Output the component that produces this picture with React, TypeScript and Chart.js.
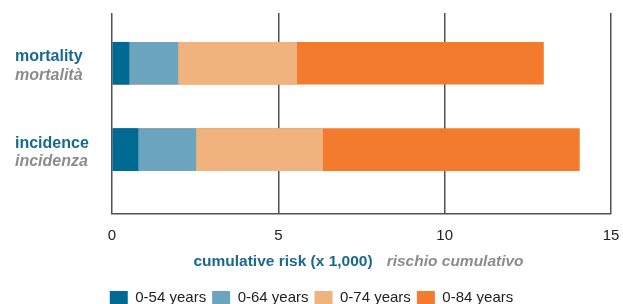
import React, { useEffect, useRef } from "react";
import { Chart, registerables } from "chart.js";

Chart.register(...registerables);

const categories = ["mortality", "incidence"];
const categoriesIt = ["mortalità", "incidenza"];
const seriesLabels = ["0-54 years", "0-64 years", "0-74 years", "0-84 years"];
// cumulative risk (x 1,000), each age band cumulative from 0
const risk0to54 = [0.51, 0.78];
const risk0to64 = [1.98, 2.52];
const risk0to74 = [5.55, 6.33];
const risk0to84 = [12.97, 14.05];
const xTicks = [0, 5, 10, 15];
const titleEn = "cumulative risk (x 1,000)";
const titleIt = "rischio cumulativo";

const colors = ["#006a93", "#6aa4be", "#f0b37e", "#f37b2d"];
const TEAL = "#19698f";
const GRAY = "#8c8c8c";
const FONT = "'Liberation Sans', Arial, sans-serif";

const labelsPlugin = {
  id: "customLabels",
  afterDraw(chart: any) {
    const { ctx, chartArea, scales } = chart;
    ctx.save();
    ctx.textAlign = "left";
    ctx.textBaseline = "alphabetic";
    categories.forEach((c, i) => {
      const yc = scales.y.getPixelForValue(i);
      ctx.font = `bold 16px ${FONT}`;
      ctx.fillStyle = TEAL;
      ctx.fillText(c, 15, yc - 2);
      ctx.font = `italic bold 16px ${FONT}`;
      ctx.fillStyle = GRAY;
      ctx.fillText(categoriesIt[i], 15, yc + 16.5);
    });
    const gap = 14;
    ctx.font = `bold 15.5px ${FONT}`;
    const w1 = ctx.measureText(titleEn).width;
    ctx.font = `italic bold 15.5px ${FONT}`;
    const w2 = ctx.measureText(titleIt).width;
    const cx = (chartArea.left + chartArea.right) / 2 - 3;
    const x0 = cx - (w1 + gap + w2) / 2;
    const yb = 265.5;
    ctx.font = `bold 15.5px ${FONT}`;
    ctx.fillStyle = TEAL;
    ctx.fillText(titleEn, x0, yb);
    ctx.font = `italic bold 15.5px ${FONT}`;
    ctx.fillStyle = GRAY;
    ctx.fillText(titleIt, x0 + w1 + gap, yb);
    ctx.restore();
  },
};

export default function App() {
  const ref = useRef<HTMLCanvasElement | null>(null);
  useEffect(() => {
    if (!ref.current) return;
    const series = [risk0to54, risk0to64, risk0to74, risk0to84];
    const chart = new Chart(ref.current, {
      type: "bar",
      data: {
        datasets: series.map((vals, k) => ({
          label: seriesLabels[k],
          data: vals.map((v, i) => ({ x: v, y: i })),
          backgroundColor: colors[k],
          borderWidth: 0,
          barThickness: 42,
          grouped: false,
          order: k,
        })),
      } as any,
      options: {
        indexAxis: "y",
        animation: false,
        responsive: true,
        maintainAspectRatio: false,
        layout: { padding: { top: 13, left: 0, right: 0, bottom: 0 } },
        scales: {
          x: {
            type: "linear",
            min: 0,
            max: 15,
            z: 1,
            afterBuildTicks: (s: any) => {
              s.ticks = xTicks.map((v) => ({ value: v }));
            },
            afterFit: (s: any) => {
              s.height = 70;
              s.paddingLeft = 0;
              s.paddingRight = 12;
            },
            grid: { color: "#505050", lineWidth: 1.5, drawTicks: false },
            border: { display: true, color: "#505050", width: 1.5 },
            ticks: {
              color: "#222",
              font: { family: FONT, size: 15 },
              padding: 13,
            },
          },
          y: {
            type: "linear",
            min: -0.5814,
            max: 1.7442,
            reverse: true,
            offset: false,
            display: true,
            grid: { display: false, drawTicks: false },
            border: { display: false },
            ticks: { display: false },
            afterFit: (s: any) => {
              s.width = 112;
            },
          },
        },
        plugins: {
          tooltip: { enabled: false },
          legend: {
            position: "bottom",
            labels: {
              color: "#222",
              font: { family: FONT, size: 15 },
              boxWidth: 18,
              boxHeight: 13,
              padding: 6,
              sort: (a: any, b: any) => a.datasetIndex - b.datasetIndex,
            },
          },
        },
      } as any,
      plugins: [labelsPlugin],
    });
    return () => chart.destroy();
  }, []);
  return (
    <div
      style={{
        position: "fixed",
        left: 0,
        top: 0,
        width: 623,
        height: 304,
        overflow: "hidden",
        background: "#fff",
      }}
    >
      <div style={{ position: "relative", width: 623, height: 315 }}>
        <canvas ref={ref} />
      </div>
    </div>
  );
}
